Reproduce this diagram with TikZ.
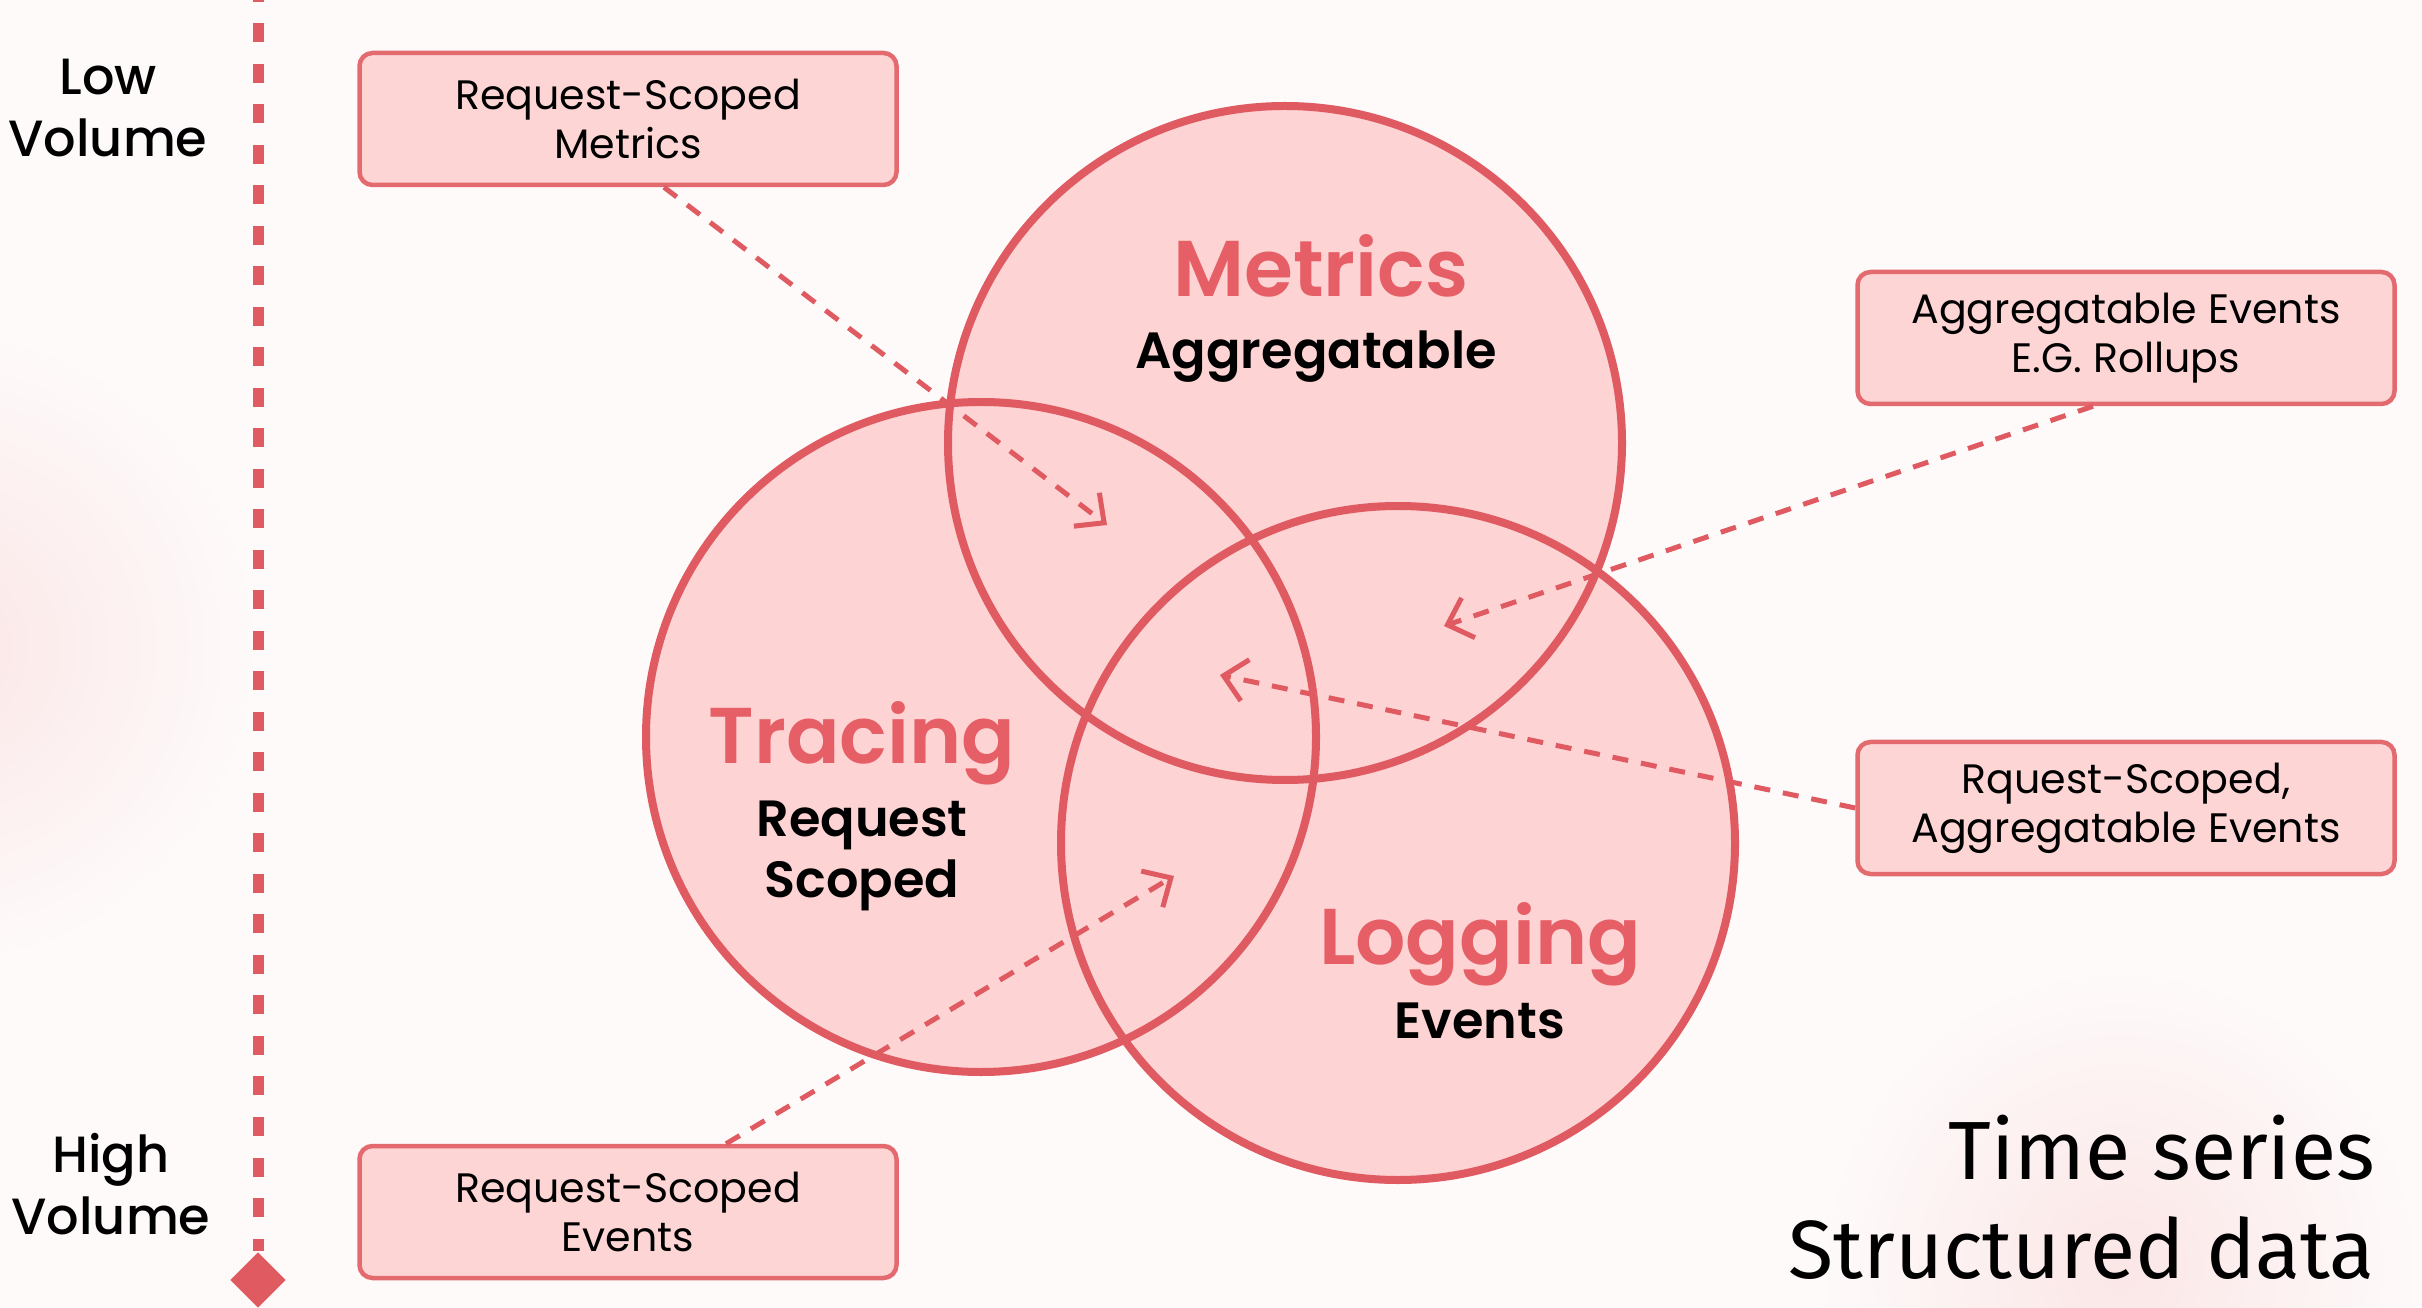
\documentclass[tikz,border=0pt]{standalone}
\usepackage{fontspec}
\setmainfont{Poppins}
\newfontfamily\semifont{Poppins}[UprightFont=* SemiBold]
\newfontfamily\medfont{Poppins}[UprightFont=* Medium]
\newfontfamily\seriesfont{Fira Sans}
\usetikzlibrary{arrows.meta,shapes.geometric}
\definecolor{r1}{HTML}{E05A62}
\definecolor{r2}{HTML}{FDD3D3}
\definecolor{r3}{HTML}{FDD5D5}
\definecolor{r4}{HTML}{E36A6E}
\definecolor{r5}{HTML}{E65F66}
\definecolor{bg}{HTML}{FEFAFA}
\definecolor{glow}{HTML}{FBE6E6}

\tikzset{
  tag/.style={draw=r4, fill=r3, line width=0.45mm, rounded corners=1.3mm,
    minimum width=5.37cm, minimum height=1.32cm, inner sep=0pt, align=center,
    font=\fontsize{11.7}{13.9}\selectfont},
  hint/.style={r1, line width=0.5mm, dash pattern=on 1.6mm off 1.3mm,
    -{Straight Barb[length=2.2mm, width=4.2mm]}},
  ring/.style={r1, line width=0.8mm},
  bigname/.style={r5, font=\semifont\fontsize{22.5}{26}\selectfont},
  subname/.style={align=center, font=\semifont\fontsize{14.5}{17.2}\selectfont},
  side/.style={align=center, font=\medfont\fontsize{14.5}{17.6}\selectfont},
}

\begin{document}
\begin{tikzpicture}
\useasboundingbox (0,0) rectangle (24.22,13.07);
\fill[bg] (0,0) rectangle (24.22,13.07);
\begin{scope}
\clip (0,0) rectangle (24.22,13.07);
\shade[inner color=glow, outer color=bg] (-0.6,6.6) circle (3.2);
\shade[inner color=glow, outer color=bg] (21.2,0.4) circle (3.0);
\end{scope}

% volume axis
\node[diamond, fill=r1, inner sep=0pt, minimum width=0.56cm, minimum height=0.56cm] (bot) at (2.58,0.27) {};
\draw[r1, line width=1.1mm, dash pattern=on 1.9mm off 2.15mm, dash phase=1.7mm] (2.58,13.07) -- (bot.north);
\node[side] (low) at (1.08,11.99) {Low\\Volume};
\node[side] (high) at (1.11,1.23) {High\\Volume};

% the three circles
\fill[r2] (12.85,8.64) circle (3.37);
\fill[r2] (9.81,5.70) circle (3.35);
\fill[r2] (13.98,4.64) circle (3.37);
\draw[ring] (12.85,8.64) circle (3.37);
\draw[ring] (9.81,5.70) circle (3.35);
\draw[ring] (13.98,4.64) circle (3.37);

\node[bigname] (metrics) at (13.21,10.41) {Metrics};
\node[subname] (agg) at (13.16,9.50) {Aggregatable};
\node[bigname] (tracing) at (8.62,5.64) {Tracing};
\node[subname] (req) at (8.62,4.51) {Request\\Scoped};
\node[bigname] (logging) at (14.80,3.63) {Logging};
\node[subname] (ev) at (14.80,2.86) {Events};

% boxes
\node[tag] (b1) at (6.28,11.88) {Request-Scoped\\Metrics};
\node[tag] (b2) at (21.26,9.69) {Aggregatable Events\\E.G. Rollups};
\node[tag] (b3) at (21.26,4.99) {Rquest-Scoped,\\Aggregatable Events};
\node[tag] (b4) at (6.28,0.95) {Request-Scoped\\Events};

\coordinate (t1) at (11.07,7.82);
\coordinate (t2) at (14.44,6.81);
\coordinate (t3) at (12.20,6.32);
\coordinate (t4) at (11.74,4.31);

\draw[hint] ([xshift=3.6mm]b1.south) -- (t1);
\draw[hint] ([xshift=-3.3mm]b2.south) -- (t2);
\draw[hint] (b3.west) -- (t3);
\draw[hint] ([xshift=9.8mm]b4.north) -- (t4);

\node[anchor=east, align=right, inner sep=1pt, font=\seriesfont\fontsize{23.5}{28.2}\selectfont] (ts) at (23.79,1.10) {Time series\\Structured data};
\end{tikzpicture}
\end{document}
